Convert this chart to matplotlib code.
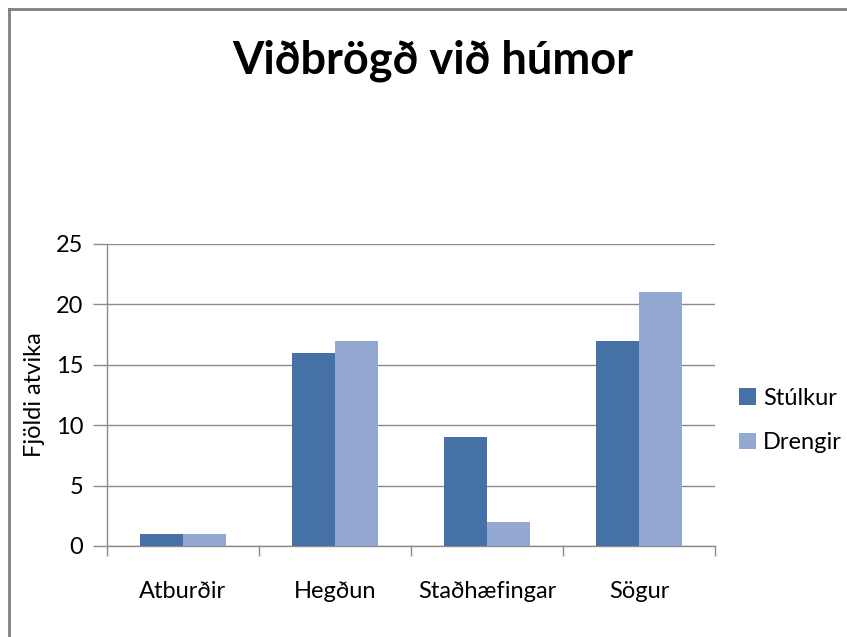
import numpy as np
import matplotlib.pyplot as plt
from matplotlib.lines import Line2D

# -----------------------------
# Data
# -----------------------------
categories = ["Atburðir", "Hegðun", "Staðhæfingar", "Sögur"]
stulkur = [1, 16, 9, 17]
drengir = [1, 17, 2, 21]
series_names = ["Stúlkur", "Drengir"]
y_ticks = [0, 5, 10, 15, 20, 25]

DARK_BLUE = "#4571A7"
LIGHT_BLUE = "#94A9D1"
GRID_GRAY = "#8C8C8C"
TEXT_SIZE = 17

plt.rcParams["font.family"] = ["Lato", "DejaVu Sans"]

fig = plt.figure(figsize=(8.47, 6.37), dpi=100)
ax = fig.add_axes([0.1263, 0.1429, 0.7179, 0.4741])

x = np.arange(len(categories))
bar_width = 1 / 3.5  # two bars plus 150% gap

ax.bar(x - bar_width / 2, stulkur, width=bar_width, color=DARK_BLUE, label=series_names[0], zorder=3)
ax.bar(x + bar_width / 2, drengir, width=bar_width, color=LIGHT_BLUE, label=series_names[1], zorder=3)

ax.set_xlim(-0.5, len(categories) - 0.5)
ax.set_ylim(0, 25)
ax.set_yticks(y_ticks)
ax.yaxis.grid(True, color=GRID_GRAY, linewidth=1, zorder=0)

# category labels sit between the boundary tick marks
ax.set_xticks(x)
ax.set_xticklabels(categories, fontsize=TEXT_SIZE)
ax.set_xticks(np.arange(len(categories) + 1) - 0.5, minor=True)
ax.tick_params(axis="x", which="major", length=0, pad=25)
ax.tick_params(axis="x", which="minor", length=7, color=GRID_GRAY, width=1)
ax.tick_params(axis="y", length=10, color=GRID_GRAY, width=1, labelsize=TEXT_SIZE, pad=7)

for side in ["top", "right"]:
    ax.spines[side].set_visible(False)
for side in ["left", "bottom"]:
    ax.spines[side].set_color(GRID_GRAY)
    ax.spines[side].set_linewidth(1)

ax.set_ylabel("Fjöldi atvika", fontsize=TEXT_SIZE, labelpad=8)

fig.text(0.511, 0.905, "Viðbrögð við húmor", ha="center", va="center",
         fontsize=32.5, fontweight="bold")

ax.legend(loc="center left", bbox_to_anchor=(1.005, 0.415), frameon=False,
          fontsize=TEXT_SIZE, handlelength=0.7, handleheight=0.7, labelspacing=1.0,
          handletextpad=0.3)

# chart frame (only top and left edges visible in the crop)
fig.add_artist(Line2D([0.0105, 1.0], [0.986, 0.986], transform=fig.transFigure, color="#7F7F7F", linewidth=2))
fig.add_artist(Line2D([0.0105, 0.0105], [0.0, 0.986], transform=fig.transFigure, color="#7F7F7F", linewidth=2))

fig.savefig("out.png", dpi=100)
